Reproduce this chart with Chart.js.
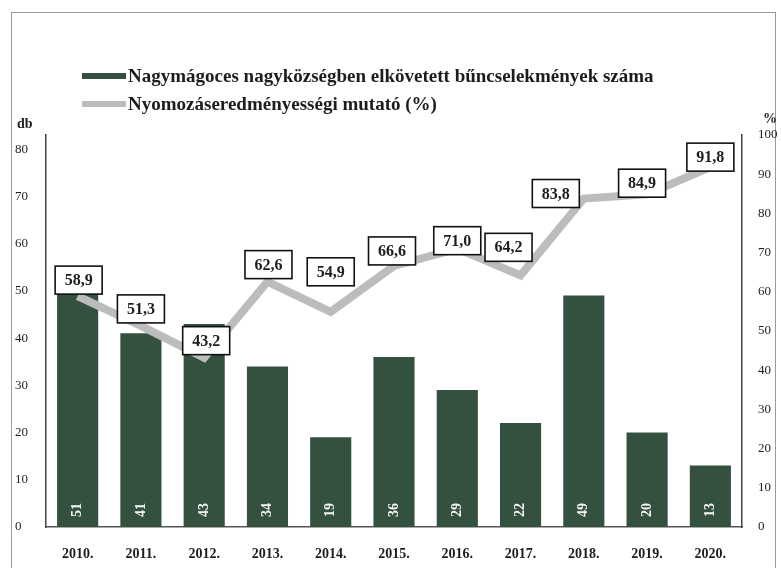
<!DOCTYPE html>
<html lang="hu">
<head>
<meta charset="utf-8">
<title>Bűncselekmények és nyomozáseredményesség</title>
<script src="https://cdn.jsdelivr.net/npm/chart.js@4.4.1/dist/chart.umd.min.js"></script>
<style>
  html, body { margin: 0; padding: 0; background: #fff; }
  #wrap { position: relative; width: 781px; height: 568px; }
</style>
</head>
<body>
<div id="wrap"><canvas id="crime-chart"></canvas></div>
<script>
// data
const years = ['2010.', '2011.', '2012.', '2013.', '2014.', '2015.', '2016.', '2017.', '2018.', '2019.', '2020.']
const crimeCounts = [51, 41, 43, 34, 19, 36, 29, 22, 49, 20, 13]
const clearanceRate = [58.9, 51.3, 43.2, 62.6, 54.9, 66.6, 71.0, 64.2, 83.8, 84.9, 91.8]
const countTicks = [0, 10, 20, 30, 40, 50, 60, 70, 80]

const barLabel = 'Nagymágoces nagyközségben elkövetett bűncselekmények száma'
const lineLabel = 'Nyomozáseredményességi mutató (%)'

// where each % box sits relative to its point (dx, dy in px)
const boxNudge = [
  [1, -16], [0, -17], [2, -17], [1, -17], [0, -40], [-2, -15],
  [0, -8], [-12, -28], [-28, -5], [-5, -11], [0, -10],
]

const BAR_COLOR = '#34503f'
const LINE_COLOR = '#bcbcbc'
const INK = '#1d1d1d'
const SERIF = '"Liberation Serif", "DejaVu Serif", serif'

// legend, unit captions and the scanned frame
const decorPlugin = {
  id: 'decor',
  beforeDraw(chart) {
    const c = chart.ctx
    c.save()
    c.strokeStyle = '#9a9a9a'
    c.lineWidth = 1
    c.strokeRect(11.5, 12.5, 764, 600)
    c.restore()
  },
  afterDraw(chart) {
    const c = chart.ctx
    c.save()
    const rows = [
      { y: 76, color: BAR_COLOR, text: barLabel },
      { y: 104, color: LINE_COLOR, text: lineLabel },
    ]
    rows.forEach(r => {
      c.fillStyle = r.color
      c.fillRect(82, r.y - 3, 44, 6)
      c.fillStyle = INK
      c.font = `bold 19px ${SERIF}`
      c.textBaseline = 'middle'
      c.textAlign = 'left'
      c.fillText(r.text, 128, r.y + 1)
    })
    c.font = `bold 14px ${SERIF}`
    c.fillText('db', 17, 124)
    c.textAlign = 'right'
    c.fillText('%', 777, 119)
    c.restore()
  },
}

// value boxes above the line and rotated counts inside the bars
const labelPlugin = {
  id: 'valueLabels',
  afterDatasetsDraw(chart) {
    const c = chart.ctx
    c.save()
    const bars = chart.getDatasetMeta(0).data
    c.fillStyle = '#f4f4f4'
    c.font = `bold 14px ${SERIF}`
    c.textAlign = 'center'
    c.textBaseline = 'middle'
    bars.forEach((bar, i) => {
      c.save()
      c.translate(bar.x, bar.base - 17)
      c.rotate(-Math.PI / 2)
      c.fillText(String(crimeCounts[i]), 0, 0)
      c.restore()
    })

    const pts = chart.getDatasetMeta(1).data
    c.font = `bold 16px ${SERIF}`
    pts.forEach((p, i) => {
      const txt = clearanceRate[i].toFixed(1).replace('.', ',')
      const cx = p.x + boxNudge[i][0]
      const cy = p.y + boxNudge[i][1]
      const w = 47, h = 28
      c.fillStyle = '#fff'
      c.fillRect(cx - w / 2, cy - h / 2, w, h)
      c.strokeStyle = '#111'
      c.lineWidth = 1.6
      c.strokeRect(cx - w / 2, cy - h / 2, w, h)
      c.fillStyle = INK
      c.fillText(txt, cx, cy + 1)
    })
    c.restore()
  },
}

new Chart(document.getElementById('crime-chart'), {
  type: 'bar',
  data: {
    labels: years,
    datasets: [
      {
        type: 'bar',
        label: barLabel,
        data: crimeCounts,
        backgroundColor: BAR_COLOR,
        yAxisID: 'y',
        categoryPercentage: 1,
        barPercentage: 0.65,
        order: 1,
      },
      {
        type: 'line',
        label: lineLabel,
        data: clearanceRate,
        borderColor: LINE_COLOR,
        borderWidth: 8,
        pointRadius: 0,
        tension: 0,
        yAxisID: 'y1',
        order: 0,
      },
    ],
  },
  options: {
    responsive: true,
    maintainAspectRatio: false,
    animation: false,
    layout: { padding: { top: 135, left: 15, right: 0, bottom: 0 } },
    plugins: {
      legend: { display: false },
      tooltip: { enabled: false },
    },
    scales: {
      x: {
        offset: true,
        grid: { display: false },
        border: { color: '#555', width: 1.5 },
        ticks: { color: INK, font: { family: SERIF, size: 14, weight: 'bold' }, padding: 11 },
        afterFit: s => { s.height = 41 },
      },
      y: {
        position: 'left',
        min: 0,
        max: 83,
        ticks: {
          crossAlign: 'far',
          color: INK,
          font: { family: SERIF, size: 13 },
        },
        afterBuildTicks: s => { s.ticks = countTicks.map(v => ({ value: v })) },
        grid: { display: false, drawTicks: false },
        border: { color: '#444', width: 1.5 },
        afterFit: s => { s.width = 31 },
      },
      y1: {
        position: 'right',
        min: 0,
        max: 100,
        ticks: {
          stepSize: 10,
          padding: 16,
          color: INK,
          font: { family: SERIF, size: 13 },
        },
        grid: { display: false, drawTicks: false },
        border: { color: '#444', width: 1.5 },
        afterFit: s => { s.width = 39 },
      },
    },
  },
  plugins: [decorPlugin, labelPlugin],
})
</script>
</body>
</html>
